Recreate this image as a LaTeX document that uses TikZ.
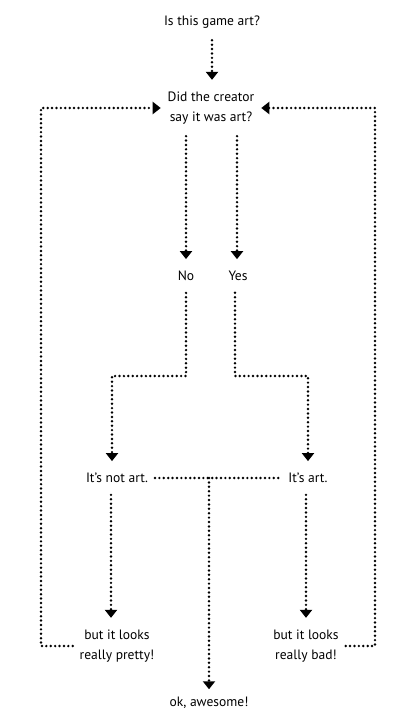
\documentclass[tikz,border=0pt]{standalone}
\usepackage{fontspec}
\setmainfont{PT Sans}
\usetikzlibrary{arrows.meta}
\usetikzlibrary{calc}

\begin{document}
\begin{tikzpicture}[x=1bp, y=-1bp,
  lbl/.style={font=\fontsize{13.6}{20}\selectfont, align=center, inner sep=0pt, outer xsep=7bp, outer ysep=12bp},
  link/.style={line width=2.7bp, line cap=round, dash pattern=on 0pt off 4.4bp},
  flow/.style={link, -{Triangle[width=12bp,length=8bp]}}]
\useasboundingbox (0,0) rectangle (418,726);
\node[lbl] (game) at (212,22) {Is this game art?};
\node[lbl] (creator) at (211,108) {Did the creator\\say it was art?};
\node[lbl] (no) at (186,276) {No};
\node[lbl] (yes) at (238,276) {Yes};
\node[lbl] (notart) at (117,478) {It’s not art.};
\node[lbl] (art) at (308,478) {It’s art.};
\node[lbl] (pretty) at (117,646) {but it looks\\really pretty!};
\node[lbl] (bad) at (306,646) {but it looks\\really bad!};
\node[lbl] (ok) at (209,703) {ok, awesome!};
\coordinate (lx) at (41,0);
\coordinate (rx) at (375,0);
\coordinate (split) at (0,376);
\draw[flow] (game.south) -- (game.south |- creator.north);
\draw[flow] (creator.south -| no) -- (no.north);
\draw[flow] ([xshift=-1bp]creator.south -| yes) -- ([xshift=-1bp]yes.north);
\draw[flow] (no.south) -- (no.south |- split) -| ([xshift=-5bp]notart.north);
\draw[flow] ([xshift=-3bp]yes.south) -- ([xshift=-3bp]yes.south |- split) -| (art.north);
\draw[link] (notart.east) -- (art.west);
\draw[flow] (notart.east -| ok) -- ([yshift=-4bp]ok.north);
\draw[flow] ([xshift=-6bp]pretty.north |- notart.south) -- ([xshift=-6bp]pretty.north);
\draw[flow] (art.south -| bad) -- (bad.north);
\draw[flow] (pretty.west) -- (pretty.west -| lx) -- (creator.west -| lx) -- (creator.west);
\draw[flow] (bad.east) -- (bad.east -| rx) -- (creator.east -| rx) -- (creator.east);
\end{tikzpicture}
\end{document}
